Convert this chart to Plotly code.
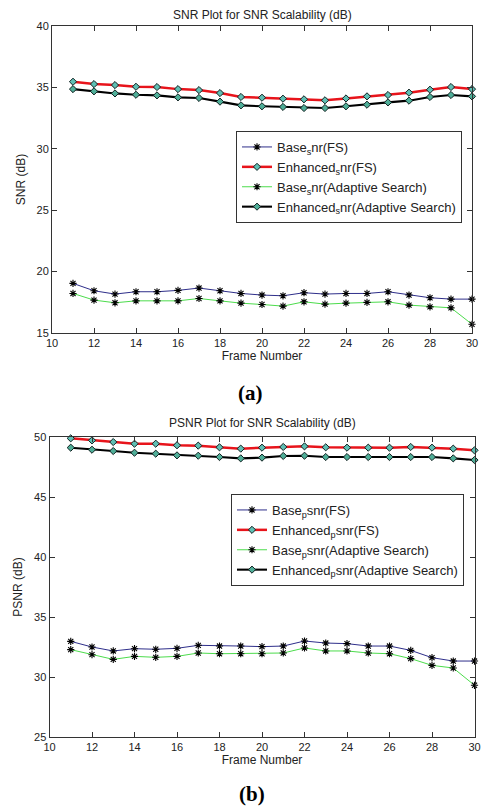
import plotly.graph_objects as go

# ---------------- data ----------------
frames = list(range(11, 31))

# (a) SNR
snr_base_fs = [19.04, 18.44, 18.17, 18.36, 18.36, 18.47, 18.66, 18.44, 18.22, 18.09,
               18.03, 18.28, 18.17, 18.22, 18.22, 18.36, 18.09, 17.87, 17.76, 17.76]
snr_enh_fs = [35.46, 35.27, 35.19, 35.05, 35.03, 34.86, 34.78, 34.54, 34.22, 34.16,
              34.08, 34.03, 33.95, 34.10, 34.27, 34.38, 34.57, 34.81, 35.03, 34.86]
snr_base_as = [18.22, 17.68, 17.46, 17.62, 17.62, 17.62, 17.81, 17.62, 17.43, 17.32,
               17.19, 17.54, 17.35, 17.43, 17.49, 17.54, 17.27, 17.13, 17.05, 15.71]
snr_enh_as = [34.86, 34.68, 34.51, 34.40, 34.35, 34.19, 34.14, 33.84, 33.54, 33.46,
              33.41, 33.32, 33.32, 33.46, 33.59, 33.78, 33.92, 34.22, 34.38, 34.27]

# (b) PSNR
psnr_base_fs = [32.97, 32.50, 32.17, 32.36, 32.31, 32.39, 32.64, 32.58, 32.58, 32.53,
                32.58, 33.00, 32.83, 32.78, 32.58, 32.58, 32.22, 31.61, 31.33, 31.33]
psnr_enh_fs = [49.89, 49.72, 49.58, 49.44, 49.44, 49.31, 49.28, 49.14, 49.03, 49.11,
               49.17, 49.22, 49.14, 49.11, 49.11, 49.11, 49.17, 49.11, 49.03, 48.89]
psnr_base_as = [32.28, 31.86, 31.47, 31.72, 31.64, 31.72, 32.00, 31.94, 31.94, 31.94,
                32.00, 32.42, 32.17, 32.17, 32.00, 31.94, 31.53, 30.97, 30.75, 29.31]
psnr_enh_as = [49.11, 48.94, 48.83, 48.69, 48.61, 48.47, 48.44, 48.33, 48.22, 48.28,
               48.42, 48.44, 48.33, 48.33, 48.33, 48.33, 48.33, 48.33, 48.22, 48.08]

names_a = ["Base<sub>s</sub>nr(FS)", "Enhanced<sub>s</sub>nr(FS)",
           "Base<sub>s</sub>nr(Adaptive Search)", "Enhanced<sub>s</sub>nr(Adaptive Search)"]
names_b = ["Base<sub>p</sub>snr(FS)", "Enhanced<sub>p</sub>snr(FS)",
           "Base<sub>p</sub>snr(Adaptive Search)", "Enhanced<sub>p</sub>snr(Adaptive Search)"]

title_a = "SNR Plot for SNR Scalability (dB)"
title_b = "PSNR Plot for SNR Scalability (dB)"
ylabel_a = "SNR (dB)"
ylabel_b = "PSNR (dB)"
xlabel = "Frame Number"
x_ticks = list(range(10, 31, 2))

# ---------------- layout helpers ----------------
W, H = 481, 810
FONT = "Liberation Sans, Arial, Helvetica, sans-serif"
TXT = "#222222"

def fx(p):
    return p / W

def fy(p):
    return 1 - p / H

styles = [
    dict(line=dict(color="#2e2e8a", width=1),
         marker=dict(symbol="asterisk", size=6, line=dict(color="black", width=1.1))),
    dict(line=dict(color="#e8141b", width=2.5),
         marker=dict(symbol="diamond", size=5.5, color="#5fbfb4", line=dict(color="#102020", width=1))),
    dict(line=dict(color="#4cdc4c", width=1),
         marker=dict(symbol="asterisk", size=6, line=dict(color="black", width=1.1))),
    dict(line=dict(color="#000000", width=2.1),
         marker=dict(symbol="diamond", size=5.5, color="#4fae98", line=dict(color="#102020", width=1))),
]

fig = go.Figure()

for ys, nm, st in zip([snr_base_fs, snr_enh_fs, snr_base_as, snr_enh_as], names_a, styles):
    fig.add_trace(go.Scatter(x=frames, y=ys, name=nm, mode="lines+markers", cliponaxis=False,
                             xaxis="x", yaxis="y", legend="legend", **st))

for ys, nm, st in zip([psnr_base_fs, psnr_enh_fs, psnr_base_as, psnr_enh_as], names_b, styles):
    fig.add_trace(go.Scatter(x=frames, y=ys, name=nm, mode="lines+markers", cliponaxis=False,
                             xaxis="x2", yaxis="y2", legend="legend2", **st))

axis_common = dict(showline=True, linecolor="#333333", linewidth=1, mirror="ticks",
                   ticks="inside", ticklen=5, tickcolor="#333333", showgrid=False,
                   zeroline=False, automargin=False, ticklabeloverflow="allow",
                   tickfont=dict(family=FONT, size=11, color=TXT))

fig.update_layout(
    width=W, height=H, autosize=False,
    margin=dict(l=0, r=0, t=0, b=0),
    paper_bgcolor="white", plot_bgcolor="white",
    showlegend=True,
    xaxis=dict(domain=[fx(52), fx(472)], anchor="y", range=[10, 30], tickvals=x_ticks,
               title=dict(text=xlabel, standoff=2, font=dict(family=FONT, size=12, color=TXT)),
               **axis_common),
    yaxis=dict(domain=[fy(333), fy(26)], anchor="x", range=[15, 40], dtick=5, tick0=15,
               title=dict(text=ylabel_a, standoff=8, font=dict(family=FONT, size=12, color=TXT)),
               **axis_common),
    xaxis2=dict(domain=[fx(49.5), fx(474.5)], anchor="y2", range=[10, 30], tickvals=x_ticks,
                title=dict(text=xlabel, standoff=2, font=dict(family=FONT, size=12, color=TXT)),
                **axis_common),
    yaxis2=dict(domain=[fy(737), fy(437)], anchor="x2", range=[25, 50], dtick=5, tick0=25,
                title=dict(text=ylabel_b, standoff=8, font=dict(family=FONT, size=12, color=TXT)),
                **axis_common),
    legend=dict(x=fx(236), y=fy(131), xanchor="left", yanchor="top",
                bgcolor="white", bordercolor="#333333", borderwidth=1,
                font=dict(family=FONT, size=13, color=TXT), tracegroupgap=0),
    legend2=dict(x=fx(231), y=fy(494), xanchor="left", yanchor="top",
                 bgcolor="white", bordercolor="#333333", borderwidth=1,
                 font=dict(family=FONT, size=13, color=TXT), tracegroupgap=0),
    annotations=[
        dict(text=title_a, x=fx(262), y=fy(15), xref="paper", yref="paper",
             showarrow=False, xanchor="center", yanchor="middle",
             font=dict(family=FONT, size=12, color=TXT)),
        dict(text=title_b, x=fx(262), y=fy(423), xref="paper", yref="paper",
             showarrow=False, xanchor="center", yanchor="middle",
             font=dict(family=FONT, size=12, color=TXT)),
        dict(text="<b>(a)</b>", x=fx(250), y=fy(393), xref="paper", yref="paper",
             showarrow=False, xanchor="center", yanchor="middle",
             font=dict(family="Liberation Serif, Times New Roman, serif", size=21, color="black")),
        dict(text="<b>(b)</b>", x=fx(252), y=fy(794), xref="paper", yref="paper",
             showarrow=False, xanchor="center", yanchor="middle",
             font=dict(family="Liberation Serif, Times New Roman, serif", size=21, color="black")),
    ],
)

fig.write_html(
    "out.html",
    config={"displayModeBar": False},
    post_script="document.body.style.margin='0';document.body.style.overflow='hidden';",
)
